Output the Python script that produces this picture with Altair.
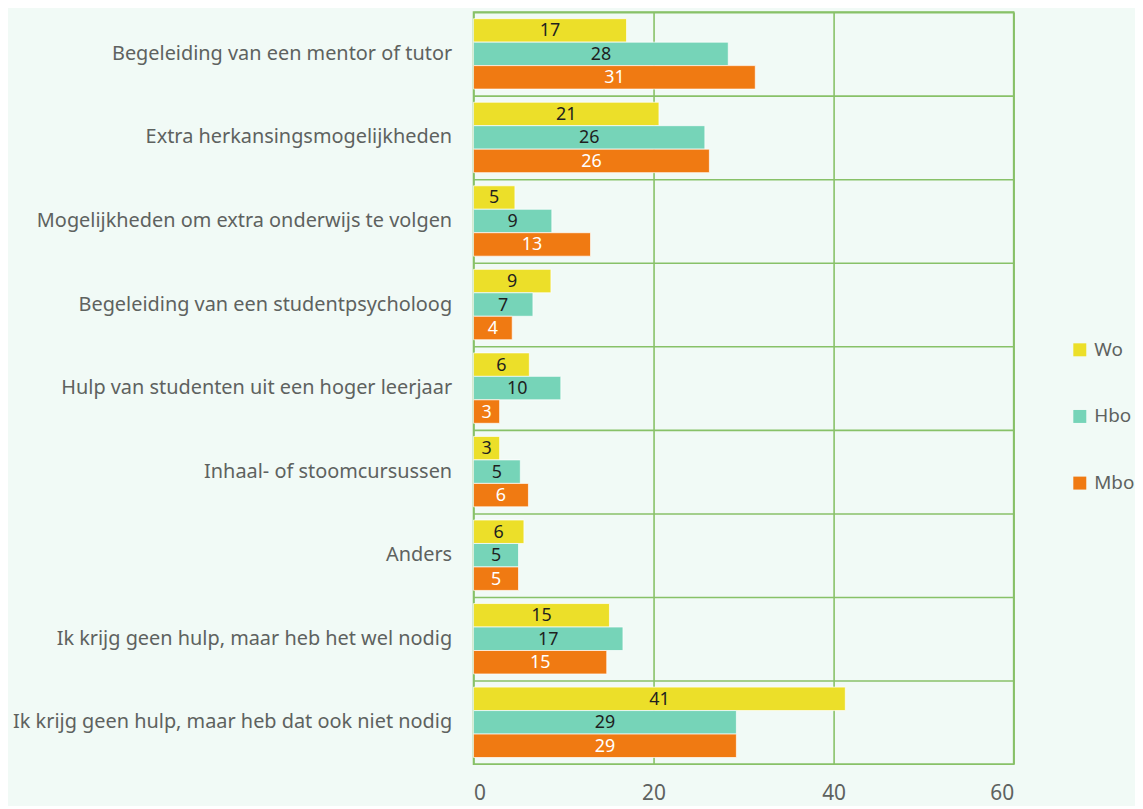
import altair as alt
import pandas as pd

categories = [
    "Begeleiding van een mentor of tutor",
    "Extra herkansingsmogelijkheden",
    "Mogelijkheden om extra onderwijs te volgen",
    "Begeleiding van een studentpsycholoog",
    "Hulp van studenten uit een hoger leerjaar",
    "Inhaal- of stoomcursussen",
    "Anders",
    "Ik krijg geen hulp, maar heb het wel nodig",
    "Ik krijg geen hulp, maar heb dat ook niet nodig",
]
series = ["Wo", "Hbo", "Mbo"]
wo = [17.0, 20.6, 4.6, 8.6, 6.2, 2.9, 5.6, 15.1, 41.3]
hbo = [28.3, 25.7, 8.7, 6.6, 9.7, 5.2, 5.0, 16.6, 29.2]
mbo = [31.3, 26.2, 13.0, 4.3, 2.9, 6.1, 5.0, 14.8, 29.2]
colors = ["#ECDF29", "#76D4B8", "#F07A12"]

rows = []
for i, c in enumerate(categories):
    for s, vals in zip(series, [wo, hbo, mbo]):
        rows.append({"categorie": c, "reeks": s, "waarde": vals[i]})
df = pd.DataFrame(rows)

font = "Noto Sans"
grid_color = "#88C168"
text_grey = "#5E625F"

y_enc = alt.Y(
    "categorie:N",
    sort=categories,
    title=None,
    scale=alt.Scale(paddingInner=0, paddingOuter=0),
    axis=alt.Axis(
        grid=True,
        gridColor=grid_color,
        gridWidth=1.6,
        bandPosition=0,
        ticks=False,
        domain=False,
        labelFont=font,
        labelFontSize=20,
        labelColor=text_grey,
        labelPadding=22,
        labelLimit=600,
        minExtent=466,
        maxExtent=466,
    ),
)
yoff = alt.YOffset(
    "reeks:N",
    sort=series,
    scale=alt.Scale(paddingInner=0, paddingOuter=0.28),
)

bars = alt.Chart(df).mark_bar(
    stroke="#ffffff", strokeWidth=1, strokeOpacity=0.7
).encode(
    x=alt.X(
        "waarde:Q",
        title=None,
        scale=alt.Scale(domain=[0, 60]),
        axis=alt.Axis(
            values=[0, 20, 40, 60],
            grid=True,
            gridColor=grid_color,
            gridWidth=1.6,
            ticks=False,
            domain=False,
            labelFont=font,
            labelFontSize=21,
            labelColor=text_grey,
            labelPadding=19,
        ),
    ),
    y=y_enc,
    yOffset=yoff,
    color=alt.Color(
        "reeks:N",
        sort=series,
        scale=alt.Scale(domain=series, range=colors),
        legend=alt.Legend(
            title=None,
            orient="none",
            legendX=600,
            legendY=330,
            symbolType="square",
            symbolSize=170,
            symbolStrokeWidth=0,
            labelFont=font,
            labelFontSize=19,
            labelColor=text_grey,
            rowPadding=47,
            labelOffset=5,
        ),
    ),
)

labels = alt.Chart(df).transform_calculate(
    mid="datum.waarde / 2"
).mark_text(font=font, fontSize=18, baseline="middle", dy=1).encode(
    x="mid:Q",
    y=alt.Y("categorie:N", sort=categories),
    yOffset=alt.YOffset("reeks:N", sort=series),
    text=alt.Text("waarde:Q", format=".0f"),
    color=alt.condition(
        alt.datum.reeks == "Mbo", alt.value("#ffffff"), alt.value("#1f1f1f")
    ),
)

chart = (
    alt.layer(bars, labels)
    .properties(width=543, height=756, background="#F1FAF6",
                padding={"left": 2, "top": 2, "right": 0, "bottom": 0})
    .configure_view(stroke=grid_color, strokeWidth=1.6)
)

chart.save("out.html", embed_options={"renderer": "svg", "actions": False})
